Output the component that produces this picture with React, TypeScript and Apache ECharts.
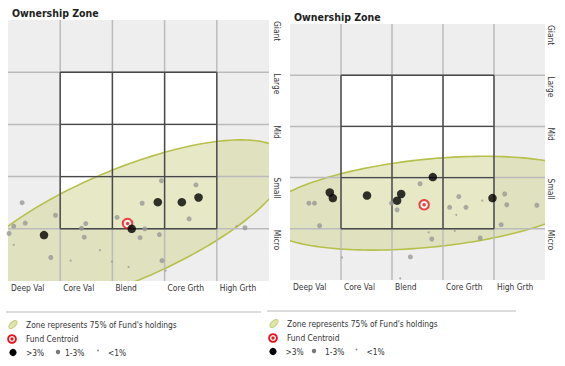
import React, { useEffect, useRef } from "react";
import * as echarts from "echarts";

// ---- category labels ----
const styleCols = ["Deep Val", "Core Val", "Blend", "Core Grth", "High Grth"];
const sizeRows = ["Micro", "Small", "Mid", "Large", "Giant"];
const cellLines = [1, 2, 3, 4];
const boxRange = [1, 4];

// ---- left fund ----
const leftLarge = [[0.69, 0.88], [2.37, 1.0], [2.87, 1.51], [3.33, 1.51], [3.65, 1.6]];
const leftMedium = [
  [0.27, 1.5], [0.11, 1.05], [0.33, 1.11], [0.02, 0.91], [0.91, 1.26], [0.82, 0.45],
  [1.41, 1.01], [1.49, 1.1], [1.46, 0.84], [2.09, 1.22], [2.57, 1.49], [2.94, 1.92],
  [2.62, 1.0], [2.53, 0.83], [2.9, 0.89], [2.95, 0.39], [3.47, 1.19], [3.6, 1.84], [4.54, 1.02],
];
const leftSmall = [[0.11, 0.69], [1.2, 0.39], [1.76, 0.59], [1.99, 0.37], [2.31, 0.27], [3.02, 0.2], [4.38, 1.05]];
const leftCentroid = [[2.29, 1.1]];
// zone ellipse: centerX, centerY, semi-major, semi-minor, angle (deg)
const leftZone = [2.2, 1.05, 3.4, 1.07, 23];

// ---- right fund ----
const rightLarge = [[0.78, 1.71], [0.84, 1.6], [1.51, 1.65], [2.18, 1.68], [2.1, 1.55], [2.8, 2.01], [3.97, 1.6]];
const rightMedium = [
  [0.37, 1.5], [0.48, 1.5], [0.58, 1.06], [1.99, 1.5], [2.1, 1.37], [2.55, 1.88], [2.78, 0.8],
  [2.36, 0.45], [3.13, 1.42], [3.31, 1.63], [3.45, 1.42], [3.73, 0.82], [4.21, 1.68], [4.25, 1.47],
  [4.14, 1.08], [4.84, 1.46],
];
const rightSmall = [[1.02, 0.44], [2.16, 0.03], [2.72, 0.93], [3.26, 1.27], [3.23, 0.96], [3.77, 1.55]];
const rightCentroid = [[2.63, 1.47]];
const rightZone = [2.72, 1.5, 3.29, 0.86, 5.7];

const FONT = "'DejaVu Sans Condensed', 'DejaVu Sans', sans-serif";
const TEXT = "#333";

function zoneRender(params: any, api: any) {
  const cx = api.value(0), cy = api.value(1), a = api.value(2), b = api.value(3);
  const ang = (api.value(4) * Math.PI) / 180;
  const pts: number[][] = [];
  for (let i = 0; i < 180; i++) {
    const t = (i / 180) * Math.PI * 2;
    const u = a * Math.cos(t), v = b * Math.sin(t);
    pts.push(api.coord([cx + u * Math.cos(ang) - v * Math.sin(ang), cy + u * Math.sin(ang) + v * Math.cos(ang)]));
  }
  const cs = params.coordSys;
  return {
    type: "polygon",
    shape: { points: pts },
    clipPath: { type: "rect", shape: { x: cs.x, y: cs.y, width: cs.width, height: cs.height } },
    style: { fill: "rgba(214,216,160,0.6)", stroke: "#b6c04a", lineWidth: 1.6 },
  };
}

function boxFillRender(params: any, api: any) {
  const p1 = api.coord([boxRange[0], boxRange[1]]);
  const p2 = api.coord([boxRange[1], boxRange[0]]);
  return { type: "rect", shape: { x: p1[0], y: p1[1], width: p2[0] - p1[0], height: p2[1] - p1[1] }, style: { fill: "#fff" } };
}

function linesRender(params: any, api: any) {
  const cs = params.coordSys;
  const children: any[] = [];
  cellLines.forEach((v) => {
    const px = api.coord([v, 0])[0];
    const py = api.coord([0, v])[1];
    children.push({ type: "line", shape: { x1: px, y1: cs.y, x2: px, y2: cs.y + cs.height }, style: { stroke: "#bbbbbb", lineWidth: 1.5 } });
    children.push({ type: "line", shape: { x1: cs.x, y1: py, x2: cs.x + cs.width, y2: py }, style: { stroke: "#bbbbbb", lineWidth: 1.5 } });
  });
  cellLines.forEach((v) => {
    const a = api.coord([v, boxRange[0]]);
    const b = api.coord([v, boxRange[1]]);
    children.push({ type: "line", shape: { x1: a[0], y1: a[1], x2: b[0], y2: b[1] }, style: { stroke: "#484848", lineWidth: 1.4 } });
    const c = api.coord([boxRange[0], v]);
    const d = api.coord([boxRange[1], v]);
    children.push({ type: "line", shape: { x1: c[0], y1: c[1], x2: d[0], y2: d[1] }, style: { stroke: "#484848", lineWidth: 1.4 } });
  });
  return { type: "group", children };
}

function panelSeries(idx: number, zone: number[], large: number[][], medium: number[][], small: number[][], centroid: number[][]) {
  const ax = { xAxisIndex: idx, yAxisIndex: idx };
  return [
    { type: "custom", ...ax, z: 1, silent: true, renderItem: boxFillRender, data: [[0, 0]] },
    { type: "custom", name: "Zone represents 75% of Fund's holdings", ...ax, z: 2, silent: true, renderItem: zoneRender, data: [zone] },
    { type: "custom", ...ax, z: 3, silent: true, renderItem: linesRender, data: [[0, 0]] },
    { type: "scatter", name: "<1%", ...ax, z: 4, symbolSize: 2, itemStyle: { color: "#9a9a9a" }, data: small },
    { type: "scatter", name: "1-3%", ...ax, z: 4, symbolSize: 5, itemStyle: { color: "#999999" }, data: medium },
    { type: "scatter", name: "Fund Centroid", ...ax, z: 5, symbolSize: 9.5, itemStyle: { color: "#fff", borderColor: "#e8141b", borderWidth: 2 }, data: centroid },
    { type: "scatter", ...ax, z: 5, symbolSize: 3.5, itemStyle: { color: "#e8141b" }, data: centroid },
    { type: "scatter", name: ">3%", ...ax, z: 6, symbolSize: 8.5, itemStyle: { color: "#000" }, data: large },
  ];
}

function xAxisFor(idx: number, margin: number) {
  return {
    type: "value", gridIndex: idx, min: 0, max: 5, interval: 1,
    axisLine: { show: false }, axisTick: { show: false }, splitLine: { show: false },
    axisLabel: {
      formatter: (v: number) => styleCols[v] ?? "", align: "left", margin, padding: [0, 0, 0, 3],
      color: TEXT, fontSize: 8.4, fontFamily: FONT,
    },
  };
}

function yAxisFor(idx: number, margin: number) {
  return {
    type: "value", gridIndex: idx, position: "right", min: 0, max: 5, interval: 1,
    axisLine: { show: false }, axisTick: { show: false }, splitLine: { show: false },
    axisLabel: {
      formatter: (v: number) => (v >= 1 ? sizeRows[v - 1] : ""), rotate: -90, align: "left", verticalAlign: "middle",
      margin, padding: [0, 0, 0, 1], color: TEXT, fontSize: 8.4, fontFamily: FONT,
    },
  };
}

function legendGraphics(x0: number, sepX1: number, sepY: number, rowY: number[], xs: { dot1: number; t1: number; dot2: number; t2: number; dot3: number; t3: number }) {
  const tStyle = (text: string) => ({ text, fill: TEXT, font: `8.35px ${FONT}`, verticalAlign: "middle" });
  return [
    { type: "line", shape: { x1: x0 - 2, y1: sepY, x2: sepX1, y2: sepY }, style: { stroke: "#dddddd", lineWidth: 2 } },
    { type: "ellipse", x: x0 + 5, y: rowY[0], rotation: Math.PI / 4, shape: { cx: 0, cy: 0, rx: 5, ry: 2.6 }, style: { fill: "#dfe5ad", stroke: "#c4cd7c", lineWidth: 1 } },
    { type: "text", x: x0 + 18, y: rowY[0], style: tStyle("Zone represents 75% of Fund's holdings") },
    { type: "circle", shape: { cx: x0 + 4, cy: rowY[1], r: 4.8 }, style: { fill: "#e8141b" } },
    { type: "circle", shape: { cx: x0 + 4, cy: rowY[1], r: 3 }, style: { fill: "#fff" } },
    { type: "circle", shape: { cx: x0 + 4, cy: rowY[1], r: 1.6 }, style: { fill: "#e8141b" } },
    { type: "text", x: x0 + 18, y: rowY[1], style: tStyle("Fund Centroid") },
    { type: "circle", shape: { cx: xs.dot1, cy: rowY[2], r: 3.6 }, style: { fill: "#000" } },
    { type: "text", x: xs.t1, y: rowY[2], style: tStyle(">3%") },
    { type: "circle", shape: { cx: xs.dot2, cy: rowY[2] - 0.5, r: 2.2 }, style: { fill: "#777" } },
    { type: "text", x: xs.t2, y: rowY[2], style: tStyle("1-3%") },
    { type: "circle", shape: { cx: xs.dot3, cy: rowY[2] - 2, r: 0.9 }, style: { fill: "#888" } },
    { type: "text", x: xs.t3, y: rowY[2], style: tStyle("<1%") },
  ];
}

export default function App() {
  const ref = useRef<HTMLDivElement>(null);
  useEffect(() => {
    if (!ref.current) return;
    const chart = echarts.init(ref.current, null, { renderer: "svg" });
    chart.setOption({
      animation: false,
      backgroundColor: "#ffffff",
      title: [
        { text: "Ownership Zone", left: 7, top: 2, textStyle: { fontSize: 10.5, fontWeight: "bold", color: "#222", fontFamily: FONT } },
        { text: "Ownership Zone", left: 289, top: 6, textStyle: { fontSize: 10.5, fontWeight: "bold", color: "#222", fontFamily: FONT } },
      ],
      grid: [
        { left: 8, top: 20, width: 261, height: 261, show: true, backgroundColor: "#eeeeee", borderWidth: 0 },
        { left: 290, top: 24, width: 255, height: 256, show: true, backgroundColor: "#eeeeee", borderWidth: 0 },
      ],
      xAxis: [xAxisFor(0, 3), xAxisFor(1, 3)],
      yAxis: [yAxisFor(0, 8), yAxisFor(1, 6)],
      series: [
        ...panelSeries(0, leftZone, leftLarge, leftMedium, leftSmall, leftCentroid),
        ...panelSeries(1, rightZone, rightLarge, rightMedium, rightSmall, rightCentroid),
      ],
      graphic: [
        ...legendGraphics(8, 261, 312, [324.5, 339, 352.5], { dot1: 13, t1: 26, dot2: 58, t2: 65, dot3: 98, t3: 108 }),
        ...legendGraphics(269, 516, 311, [323.5, 338, 351.5], { dot1: 273, t1: 285.5, dot2: 314, t2: 325, dot3: 356.5, t3: 366.5 }),
      ],
    });
    return () => chart.dispose();
  }, []);
  return <div ref={ref} style={{ position: "absolute", left: 0, top: 0, width: 565, height: 366 }} />;
}
